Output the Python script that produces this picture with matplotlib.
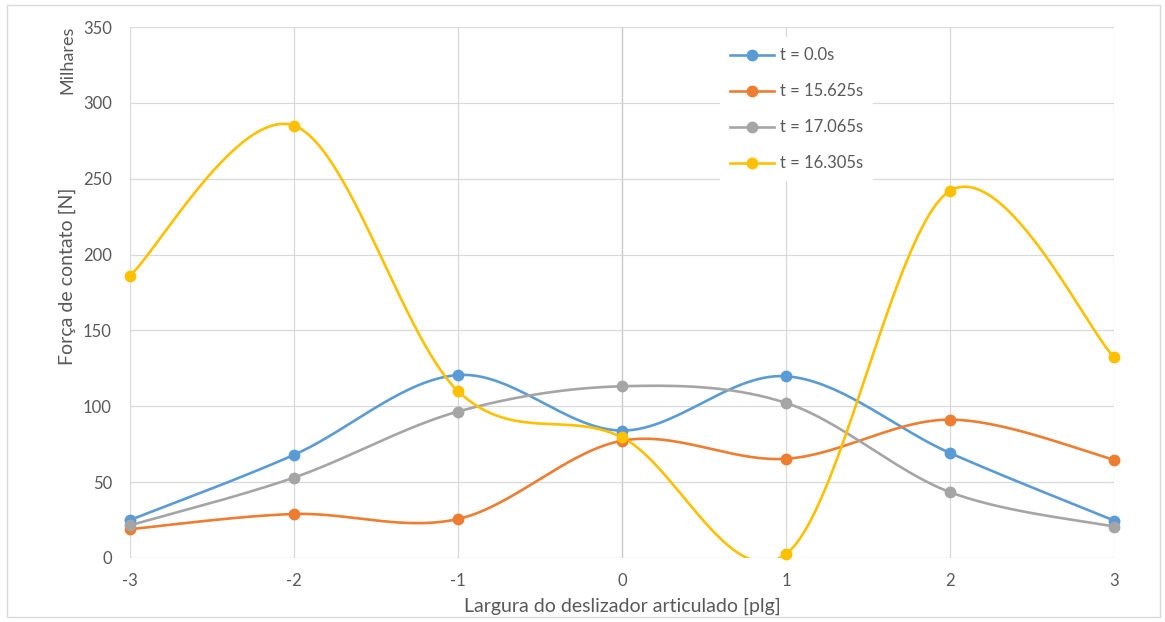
import numpy as np
import matplotlib
matplotlib.use("Agg")
import matplotlib.pyplot as plt
from matplotlib.patches import Rectangle

# Contact force (thousands of N) across the articulated slider width
x_pos = [-3, -2, -1, 0, 1, 2, 3]
series_labels = ["t = 0.0s", "t = 15.625s", "t = 17.065s", "t = 16.305s"]
force_t0 = [25.0, 68.0, 120.6, 84.0, 119.8, 69.2, 24.7]
force_t15625 = [19.0, 29.0, 25.7, 77.3, 65.4, 91.2, 64.8]
force_t17065 = [21.5, 53.0, 96.5, 113.2, 102.2, 43.4, 20.7]
force_t16305 = [186.0, 285.0, 110.0, 79.5, 2.6, 242.0, 132.4]
series_colors = ["#5B9BD5", "#ED7D31", "#A5A5A5", "#FFC000"]

y_ticks = [0, 50, 100, 150, 200, 250, 300, 350]

TEXT = "#595959"
GRID = "#D9D9D9"
plt.rcParams["font.family"] = ["Lato", "DejaVu Sans"]


def smooth_curve(xs, ys, n=60):
    """Cubic Bezier smoothing through every point (spreadsheet-style)."""
    pts = np.column_stack([xs, ys]).astype(float)
    out = []
    m = len(pts)
    t = np.linspace(0, 1, n)[:, None]
    for i in range(m - 1):
        p0 = pts[i - 1] if i > 0 else pts[i]
        p1 = pts[i]
        p2 = pts[i + 1]
        p3 = pts[i + 2] if i + 2 < m else pts[i + 1]
        c1 = p1 + (p2 - p0) / 6.0
        c2 = p2 - (p3 - p1) / 6.0
        seg = ((1 - t) ** 3) * p1 + 3 * ((1 - t) ** 2) * t * c1 \
            + 3 * (1 - t) * t ** 2 * c2 + t ** 3 * p2
        out.append(seg if i == 0 else seg[1:])
    arr = np.vstack(out)
    return arr[:, 0], arr[:, 1]


fig = plt.figure(figsize=(11.65, 6.22), dpi=100)
W, H = 1165, 622
ax = fig.add_axes([130 / W, 1 - 558 / H, (1114 - 130) / W, (558 - 27) / H])

# outer chart border
fig.patches.append(Rectangle((7 / W, 5 / H), (1160 - 7) / W, (617 - 5) / H,
                             transform=fig.transFigure, fill=False,
                             edgecolor=GRID, linewidth=1.0))

all_series = [force_t0, force_t15625, force_t17065, force_t16305]
for vals, lab, col in zip(all_series, series_labels, series_colors):
    sx, sy = smooth_curve(x_pos, vals)
    ax.plot(sx, sy, color=col, linewidth=1.9, zorder=3, solid_capstyle="round")
    ax.plot(x_pos, vals, linestyle="none", marker="o", markersize=7.5,
            color=col, zorder=4, clip_on=False)
    # legend proxy
    ax.plot([], [], color=col, linewidth=1.9, marker="o", markersize=7.5,
            label=lab)

ax.set_xlim(-3, 3)
ax.set_ylim(0, 350)
ax.set_xticks(x_pos)
ax.set_xticklabels([str(v) for v in x_pos])
ax.set_yticks(y_ticks)

for v in x_pos:
    if v == 0:
        ax.axvline(v, color="#C8C8C8", linewidth=1.0, zorder=1)
    else:
        ax.axvline(v, color=GRID, linewidth=0.9, zorder=1)
for v in y_ticks:
    ax.axhline(v, color=GRID if v else "#C8C8C8", linewidth=0.9, zorder=1)

for s in ax.spines.values():
    s.set_visible(False)
ax.tick_params(axis="both", length=0, labelsize=12, colors=TEXT)
ax.tick_params(axis="y", pad=13)
ax.tick_params(axis="x", pad=11)

fig.text(622 / W, 1 - 606 / H, "Largura do deslizador articulado [plg]",
         ha="center", va="center", fontsize=14, color=TEXT)
fig.text(67 / W, 1 - 276 / H, "Força de contato [N]", rotation=90,
         ha="center", va="center", fontsize=14, color=TEXT)
fig.text(67 / W, 1 - 60 / H, "Milhares", rotation=90,
         ha="center", va="center", fontsize=13, color=TEXT)

leg = ax.legend(loc="upper left", bbox_to_anchor=(712 / W, 1 - 29 / H),
                bbox_transform=fig.transFigure, frameon=True, fancybox=False,
                facecolor="white", edgecolor="none", framealpha=1.0,
                fontsize=12, labelcolor=TEXT, handlelength=2.6,
                handletextpad=0.4, labelspacing=1.2, borderpad=0.6)
leg.set_zorder(5)

fig.savefig("out.png", dpi=100, facecolor="white")
